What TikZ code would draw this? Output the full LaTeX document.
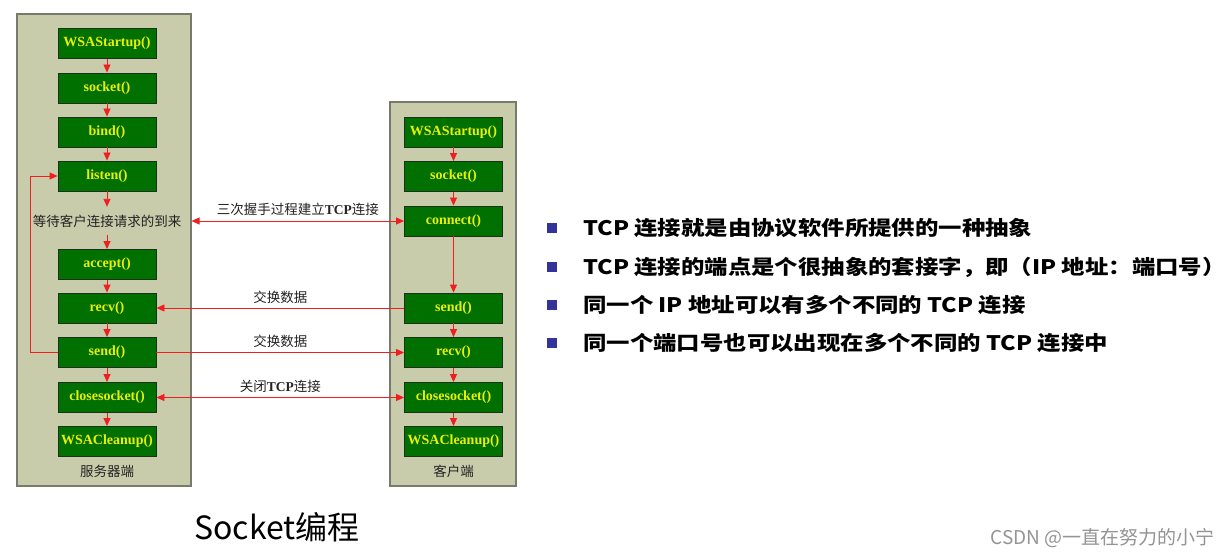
\documentclass[tikz,border=0pt]{standalone}
\usepackage{fontspec}
\setmainfont{Liberation Serif}
\newfontfamily\cjk{Noto Sans CJK SC}
\usetikzlibrary{arrows.meta}
\definecolor{panelfill}{RGB}{200,204,170}
\definecolor{paneldraw}{RGB}{120,122,110}
\definecolor{boxgreen}{RGB}{0,112,0}
\definecolor{boxdraw}{RGB}{25,50,25}
\definecolor{ylw}{RGB}{232,240,10}
\definecolor{arrred}{RGB}{240,30,30}
\definecolor{navy}{RGB}{51,51,153}
\definecolor{lbl}{RGB}{35,35,35}
\tikzset{
  panel/.style={draw=paneldraw, line width=1.2pt, fill=panelfill, inner sep=0pt},
  fn/.style={draw=boxdraw, line width=0.9pt, fill=boxgreen, minimum width=98pt, minimum height=30pt,
    inner sep=0pt, text=ylw, font=\fontsize{14}{16}\selectfont\bfseries},
  lab/.style={inner sep=0pt, text=lbl, font=\fontsize{13.5}{15}\selectfont\cjk},
  tip/.tip={Triangle[length=8pt,width=7pt]},
  arr/.style={draw=arrred, line width=0.9pt, -tip},
  darr/.style={draw=arrred, line width=0.9pt, tip-tip},
  bul/.style={fill=navy, minimum size=10pt, inner sep=0pt},
  btxt/.style={anchor=west, inner sep=0pt, text=black, font=\fontsize{20}{24}\selectfont\cjk\bfseries},
}
\newcommand{\wide}[1]{\scalebox{1.17}[1]{#1}}
\begin{document}
\begin{tikzpicture}[x=1pt,y=-1pt]
\fill[white] (0,0) rectangle (1230,556);
\useasboundingbox (0,0) rectangle (1230,556);
% panels
\node[panel, minimum width=174pt, minimum height=472pt] (srv) at (104,250) {};
\node[panel, minimum width=126pt, minimum height=384pt] (cli) at (453,294) {};
% server boxes
\node[fn] (s1) at (107,43.5) {WSAStartup()};
\node[fn] (s2) at (107,88) {socket()};
\node[fn] (s3) at (107,132) {bind()};
\node[fn] (s4) at (107,176) {listen()};
\node[lab, minimum height=28pt] (wait) at (107,221) {等待客户连接请求的到来};
\node[fn] (s5) at (107,264.5) {accept()};
\node[fn] (s6) at (107,308) {recv()};
\node[fn] (s7) at (107,352.5) {send()};
\node[fn] (s8) at (107,397.5) {closesocket()};
\node[fn] (s9) at (107,441.5) {WSACleanup()};
\node[lab] (srvname) at (107,471) {服务器端};
% client boxes
\node[fn] (c1) at (453.5,132) {WSAStartup()};
\node[fn] (c2) at (453.5,176.5) {socket()};
\node[fn] (c3) at (453.5,221) {connect()};
\node[fn] (c4) at (453.5,308) {send()};
\node[fn] (c5) at (453.5,352.5) {recv()};
\node[fn] (c6) at (453.5,397.5) {closesocket()};
\node[fn] (c7) at (453.5,441.5) {WSACleanup()};
\node[lab] (cliname) at (453.5,471) {客户端};
% vertical arrows server
\draw[arr] (s1) -- (s2);
\draw[arr] (s2) -- (s3);
\draw[arr] (s3) -- (s4);
\draw[arr] (s4) -- (wait);
\draw[arr] (wait) -- (s5);
\draw[arr] (s5) -- (s6);
\draw[arr] (s6) -- (s7);
\draw[arr] (s7) -- (s8);
\draw[arr] (s8) -- (s9);
% loop
\draw[arr] (s7.west) -- ++(-27,0) |- (s4.west);
% vertical arrows client
\draw[arr] (c1) -- (c2);
\draw[arr] (c2) -- (c3);
\draw[arr] (c3) -- (c4);
\draw[arr] (c4) -- (c5);
\draw[arr] (c5) -- (c6);
\draw[arr] (c6) -- (c7);
% horizontal
\draw[darr] (wait.east -| srv.east) -- node[lab, above=5pt] (hs) {三次握手过程建立\textbf{\rmfamily TCP}连接} (c3.west);
\draw[arr] (c4.west) -- node[lab, above=4pt] (x1) {交换数据} (s6.east);
\draw[arr] (s7.east) -- node[lab, above=4pt] (x2) {交换数据} (c5.west);
\draw[darr] (s8.east) -- node[lab, above=4pt] (cl) {关闭\textbf{\rmfamily TCP}连接} (c6.west);
% bullets
\node[bul] (b1) at (551.5,228) {};
\node[bul] (b2) at (551.5,267) {};
\node[bul] (b3) at (551.5,305) {};
\node[bul] (b4) at (551.5,343) {};
\node[btxt] (t1) at (583,228) {\wide{TCP 连接就是由协议软件所提供的一种抽象}};
\node[btxt] (t2) at (583,267) {\wide{TCP 连接的端点是个很抽象的套接字，即（IP 地址：端口号）}};
\node[btxt] (t3) at (583,305) {\wide{同一个 IP 地址可以有多个不同的 TCP 连接}};
\node[btxt] (t4) at (583,343) {\wide{同一个端口号也可以出现在多个不同的 TCP 连接中}};
% title and watermark
\node[inner sep=0pt, font=\fontsize{32}{36}\selectfont\cjk] (title) at (277,527) {Socket编程};
\node[anchor=east, inner sep=0pt, text=black!42, font=\fontsize{19}{22}\selectfont\cjk] (wm) at (1215,538) {CSDN @一直在努力的小宁};
\end{tikzpicture}
\end{document}
